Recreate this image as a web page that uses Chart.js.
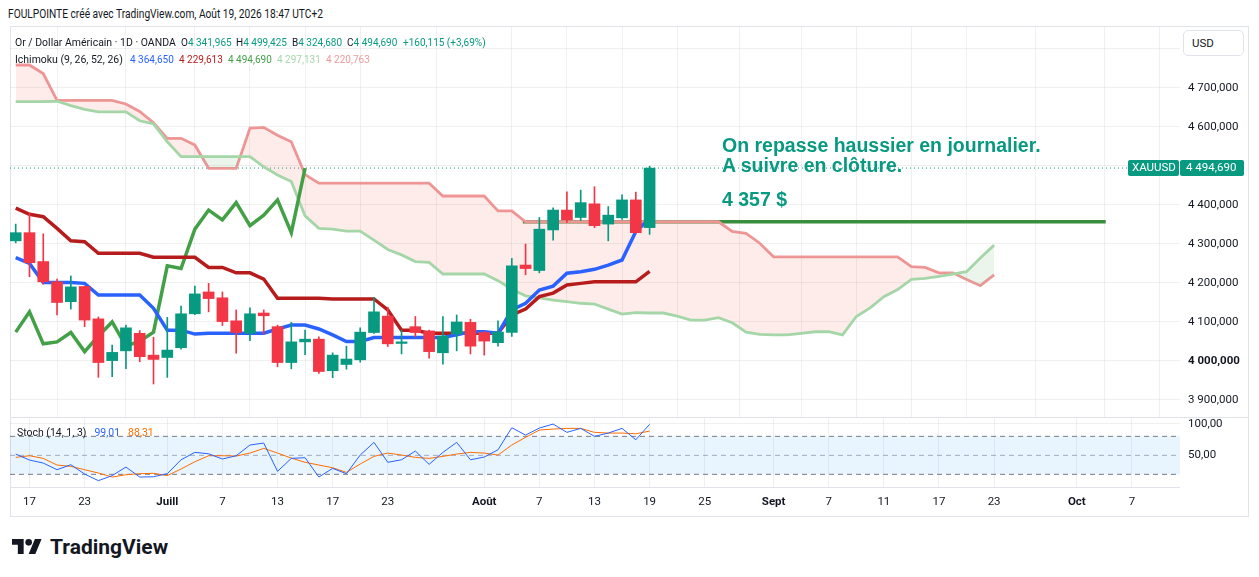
<!DOCTYPE html>
<html>
<head>
<meta charset="utf-8">
<script src="https://cdn.jsdelivr.net/npm/chart.js@4.4.1/dist/chart.umd.min.js"></script>
<style>
  body { margin: 0; width: 1259px; height: 577px; overflow: hidden; background: #fff;
         font-family: Roboto, "Liberation Sans", sans-serif; color: #131722; position: relative; }
  .abs { position: absolute; white-space: nowrap; }
  .frame { left: 10px; top: 26px; width: 1239px; height: 491px; border: 1px solid #e0e3eb; box-sizing: border-box; }
  .sep { background: #e0e3eb; height: 1px; }
  .lg { font-size: 11.5px; line-height: 14px; transform: scaleX(0.91); transform-origin: left center; }
  .lg.v { transform: scaleX(0.87); }
  .note { font-family: "Liberation Sans", Arial, sans-serif; font-weight: bold; font-size: 19.5px;
          line-height: 20px; color: #089981; }
  .usd { left: 1183px; top: 30px; width: 61px; height: 26px; border: 1px solid #e0e3eb; border-radius: 5px;
         box-sizing: border-box; background: #fff; font-size: 11.5px; line-height: 24px; padding-left: 8px; }
</style>
</head>
<body>
<div class="abs frame"></div>
<div class="abs" style="left:10px;top:27px;"><canvas id="main" width="1239" height="391"></canvas></div>
<div class="abs" style="left:10px;top:418px;"><canvas id="stoch" width="1239" height="99"></canvas></div>
<div class="abs sep" style="left:10px;top:417px;width:1239px;"></div>
<div class="abs sep" style="left:10px;top:487px;width:1170px;"></div>

<div class="abs" style="left:8px;top:7px;font-size:12px;line-height:14px;transform:scaleX(0.85);transform-origin:left center;">FOULPOINTE créé avec TradingView.com, Août 19, 2026 18:47 UTC+2</div>

<div class="abs lg" style="left:15px;top:35px;">Or / Dollar Américain · 1D · OANDA</div>
<div class="abs lg v" style="left:181px;top:35px;">O<span style="color:#089981">4 341,965</span></div>
<div class="abs lg v" style="left:236px;top:35px;">H<span style="color:#089981">4 499,425</span></div>
<div class="abs lg v" style="left:292px;top:35px;">B<span style="color:#089981">4 324,680</span></div>
<div class="abs lg v" style="left:347px;top:35px;">C<span style="color:#089981">4 494,690</span></div>
<div class="abs lg v" style="left:403px;top:35px;color:#089981">+160,115 (+3,69%)</div>
<div class="abs lg" style="left:15px;top:52px;">Ichimoku (9, 26, 52, 26)</div>
<div class="abs lg v" style="left:130px;top:52px;color:#2962ff">4 364,650</div>
<div class="abs lg v" style="left:179px;top:52px;color:#b71c1c">4 229,613</div>
<div class="abs lg v" style="left:228px;top:52px;color:#43a047">4 494,690</div>
<div class="abs lg v" style="left:277px;top:52px;color:#a5d6a7">4 297,131</div>
<div class="abs lg v" style="left:326px;top:52px;color:#ef9a9a">4 220,763</div>
<div class="abs lg" style="left:17px;top:425px;">Stoch (14, 1, 3) <span style="color:#2962ff;margin-left:6px">99,01</span> <span style="color:#ff6d00;margin-left:6px">88,31</span></div>

<div class="abs note" style="left:722px;top:135px;">On repasse haussier en journalier.</div>
<div class="abs note" style="left:722px;top:155px;">A suivre en clôture.</div>
<div class="abs note" style="left:722px;top:189px;">4 357 $</div>

<div class="abs usd">USD</div>

<div class="abs" style="left:12px;top:539px;">
  <svg width="30" height="15" viewBox="0 4 36 18"><path d="M14 22H7V11H0V4h14v18zM28 22h-8l7.5-18h8L28 22z" fill="#131722"/><circle cx="20" cy="8" r="4" fill="#131722"/></svg>
</div>
<div class="abs" style="left:50px;top:534px;font-size:21px;line-height:26px;font-weight:bold;">TradingView</div>

<script>
// daily candles, 16 June -> 19 August 2026 (index 0 = 16 June)
const open  = [4308, 4329, 4255, 4203, 4152, 4191, 4108, 4001, 4026, 4071, 4015, 4009, 4034, 4121, 4177, 4162,
               4103, 4071, 4123, 4088, 3996, 4049, 4056, 3975, 3991, 4003, 4073, 4115, 4045, 4088, 4077, 4021,
               4069, 4099, 4073, 4047, 4073, 4246, 4232, 4336, 4387, 4368, 4403, 4351, 4367, 4413, 4341.965];
const high  = [4351, 4379, 4326, 4210, 4218, 4192, 4113, 4041, 4092, 4078, 4061, 4112, 4141, 4192, 4199, 4177,
               4131, 4136, 4131, 4092, 4099, 4079, 4062, 4021, 4038, 4085, 4163, 4138, 4079, 4114, 4079, 4114,
               4118, 4107, 4076, 4103, 4263, 4300, 4368, 4393, 4434, 4438, 4447, 4396, 4426, 4433, 4499.425];
const low   = [4303, 4216, 4197, 4118, 4133, 4088, 3958, 3960, 3980, 3998, 3941, 3958, 4030, 4119, 4126, 4091,
               4020, 4052, 4069, 3985, 3980, 4016, 3968, 3957, 3979, 3997, 4071, 4037, 4018, 4062, 4007, 3992,
               4026, 4018, 4015, 4038, 4063, 4221, 4226, 4310, 4355, 4360, 4342, 4308, 4363, 4328, 4324.680];
const close = [4329, 4252, 4203, 4150, 4190, 4105, 3996, 4022, 4085, 4011, 4004, 4028, 4121, 4172, 4160, 4101,
               4073, 4121, 4116, 3996, 4049, 4056, 3973, 4015, 4005, 4074, 4126, 4044, 4049, 4073, 4024, 4064,
               4100, 4038, 4051, 4074, 4244, 4237, 4338, 4387, 4362, 4406, 4347, 4374, 4413, 4329, 4494.690];

// Ichimoku (9, 26, 52, 26)
const tenkan = [4265, 4250, 4201, 4201, 4201, 4199, 4169, 4169, 4169, 4169, 4135, 4079, 4079, 4069, 4071, 4071,
                4071, 4071, 4071, 4082, 4092, 4092, 4082, 4067, 4050, 4050, 4060, 4060, 4060, 4060, 4060, 4060,
                4067, 4075, 4075, 4071, 4131, 4148, 4182, 4192, 4225, 4229, 4235, 4246, 4259, 4332, 4364.650];
const kijun  = [4392, 4376, 4370, 4340, 4308, 4306, 4276, 4276, 4276, 4276, 4266, 4266, 4266, 4266, 4240, 4240,
                4226, 4226, 4210, 4161, 4161, 4161, 4161, 4159, 4159, 4159, 4159, 4131, 4079, 4079, 4071, 4071,
                4071, 4071, 4071, 4071, 4118, 4133, 4165, 4174, 4195, 4199, 4203, 4203, 4203, 4203, 4229.613];
const chikou = [4074, 4126, 4044, 4049, 4073, 4024, 4064, 4100, 4038, 4051, 4074, 4244, 4237, 4338, 4387, 4362,
                4406, 4347, 4374, 4413, 4329, 4494.690];
const spanA  = [4665, 4665, 4665, 4666, 4655, 4645, 4639, 4639, 4639, 4616, 4608, 4562, 4524, 4524, 4524, 4524,
                4524, 4524, 4498, 4477, 4460, 4372, 4340, 4338, 4333, 4333, 4310, 4286, 4272, 4255, 4253, 4223,
                4223, 4223, 4223, 4206, 4184, 4167, 4162, 4156, 4152, 4148, 4146, 4133, 4120, 4124, 4123, 4123,
                4115, 4105, 4105, 4111, 4098, 4074, 4068, 4067, 4067, 4071, 4075, 4075, 4067, 4114, 4136, 4165,
                4183, 4209, 4212, 4217, 4223, 4229, 4264, 4297.131];
const spanB  = [4759, 4759, 4737, 4668, 4668, 4668, 4668, 4668, 4659, 4640, 4611, 4571, 4571, 4554, 4494, 4494,
                4494, 4597, 4599, 4579, 4562, 4478, 4456, 4456, 4456, 4456, 4456, 4456, 4456, 4456, 4456, 4423,
                4423, 4423, 4423, 4385, 4385, 4357, 4357, 4357, 4357, 4357, 4357, 4357, 4357, 4357, 4357, 4357,
                4357, 4357, 4357, 4357, 4332, 4327, 4302, 4267, 4267, 4267, 4267, 4267, 4267, 4267, 4267, 4267,
                4267, 4242, 4240, 4226, 4226, 4209, 4193, 4220.763];

// Stochastic (14, 1, 3)
const stochK = [52, 42.6, 37.8, 27.3, 35.2, 20.5, 10, 18, 31.5, 15.7, 16.2, 21, 43, 54.7, 52.5, 44.2, 49.4, 66.3,
                69.4, 24.7, 45.2, 46.3, 15.7, 29.4, 21, 50.5, 70.5, 39, 43, 56.8, 35.8, 54.7, 70.5, 43, 47.3, 58.8,
                93.6, 82, 93.1, 99.4, 86.3, 92.6, 80, 85.2, 92.6, 74.6, 99.01];
const stochD = [46.8, 49.4, 45.2, 34.7, 32.6, 27.3, 22.1, 15.7, 19.4, 21, 21.6, 18, 28.4, 39.9, 49.4, 49.4, 48.9,
                53.6, 61, 53.6, 45.7, 39, 34.7, 30.4, 23.1, 36.3, 48.4, 53.6, 50.5, 46.8, 45.2, 48.4, 52, 54.7,
                53.6, 50.5, 66.3, 78.4, 90, 91.5, 92.6, 92.6, 86.3, 85.2, 85.2, 84.1, 88.31];
const stochLevels = [80, 50, 20];

// drawn level "4 357 $" (from 5 Aug to early October)
const levelPrice = 4357;
const levelFrom = 36.8, levelTo = 79.1;

// time axis (bar index -> label)
const tickPos  = [1, 5, 11, 15, 19, 23, 27, 34, 38, 42, 46, 50, 55, 59, 63, 67, 71, 77, 81];
const tickText = ['17', '23', 'Juill', '7', '13', '17', '23', 'Août', '7', '13', '19', '25', 'Sept', '7', '11', '17', '23', 'Oct', '7'];
const monthTicks = ['Juill', 'Août', 'Sept', 'Oct'];
const priceTicks = [3900, 4000, 4100, 4200, 4300, 4400, 4500, 4600, 4700, 4800];
const stochTicks = [50, 100];

const xMin = -0.414, xMax = 84.49;
const UP = '#089981', DOWN = '#f23645';
const GRID = 'rgba(42,46,57,0.07)';
const FONT = 'Roboto, "Liberation Sans", sans-serif';

function fmt(v, d) {
  const p = v.toFixed(d).split('.');
  return p[0].replace(/\B(?=(\d{3})+(?!\d))/g, ' ') + ',' + p[1];
}
function pts(arr) { return arr.map((v, i) => ({ x: i, y: v })); }
function candleColor(i) { return close[i] >= open[i] ? UP : DOWN; }
function lineDs(data, color, width, order, extra) {
  return Object.assign({ type: 'line', data: data, borderColor: color, borderWidth: width,
    pointRadius: 0, tension: 0, fill: false, order: order }, extra || {});
}
// no label padding around the plot: the plot has to fill its canvas exactly
function noPad(s) { s.paddingTop = 0; s.paddingBottom = 0; s.paddingLeft = 0; s.paddingRight = 0; }
function xScale(showTicks) {
  return {
    type: 'linear', min: xMin, max: xMax, offset: false,
    afterBuildTicks: s => { s.ticks = tickPos.map(v => ({ value: v })); },
    afterFit: s => { s.height = showTicks ? 30 : 0; noPad(s); },
    grid: { color: GRID, drawTicks: false },
    border: { display: false },
    ticks: {
      display: showTicks, autoSkip: false, maxRotation: 0, padding: 8, color: '#131722',
      callback: v => tickText[tickPos.indexOf(v)],
      font: ctx => ({ family: FONT, size: 11.5,
        weight: ctx.tick && monthTicks.includes(tickText[tickPos.indexOf(ctx.tick.value)]) ? 'bold' : 'normal' })
    }
  };
}

// last price label on the right scale
const lastPriceTag = {
  id: 'lastPriceTag',
  afterDraw(chart) {
    const c = chart.ctx, a = chart.chartArea;
    const y = Math.round(chart.scales.y.getPixelForValue(close[close.length - 1]));
    c.save();
    c.fillStyle = UP;
    c.beginPath(); c.roundRect(a.right - 52, y - 8, 51, 16, 2); c.fill();
    c.beginPath(); c.roundRect(a.right, y - 8, 64, 16, 2); c.fill();
    c.fillStyle = '#fff';
    c.font = '11.5px ' + FONT;
    c.textBaseline = 'middle';
    c.fillText('XAUUSD', a.right - 48, y + 0.5);
    c.fillText(fmt(close[close.length - 1], 3), a.right + 6, y + 0.5);
    c.restore();
  }
};

new Chart(document.getElementById('main'), {
  type: 'bar',
  data: {
    datasets: [
      lineDs([{ x: xMin, y: close[close.length - 1] }, { x: xMax, y: close[close.length - 1] }], UP, 1, 9,
             { borderDash: [1, 3] }),
      lineDs([{ x: levelFrom, y: levelPrice }, { x: levelTo, y: levelPrice }], '#388e3c', 3.5, 8),
      lineDs(pts(spanB), '#ef9a9a', 2.8, 7),
      lineDs(pts(spanA), '#a5d6a7', 2.8, 6,
             { fill: { target: 2, above: 'rgba(67,160,71,0.1)', below: 'rgba(244,67,54,0.1)' } }),
      lineDs(pts(chikou), '#43a047', 3.5, 4),
      lineDs(pts(kijun), '#b71c1c', 3.5, 3),
      lineDs(pts(tenkan), '#2962ff', 3.5, 2),
      { type: 'bar', order: 1, grouped: false, barThickness: 1,
        data: low.map((l, i) => ({ x: i, y: [l, high[i]] })),
        backgroundColor: ctx => candleColor(ctx.dataIndex) },
      { type: 'bar', order: 0, grouped: false, barThickness: 11, minBarLength: 1,
        data: open.map((o, i) => ({ x: i, y: [o, close[i]] })),
        backgroundColor: ctx => candleColor(ctx.dataIndex) }
    ]
  },
  options: {
    responsive: false, animation: false,
    layout: { padding: 0 },
    plugins: { legend: { display: false }, tooltip: { enabled: false } },
    scales: {
      x: xScale(false),
      y: {
        position: 'right', min: 3853.8, max: 4856.4,
        afterBuildTicks: s => { s.ticks = priceTicks.map(v => ({ value: v })); },
        afterFit: s => { s.width = 69; noPad(s); },
        grid: { color: GRID, drawTicks: false },
        border: { display: false },
        ticks: { padding: 8, color: '#131722', callback: v => fmt(v, 3),
                 font: ctx => ({ family: FONT, size: 11.5, weight: ctx.tick && ctx.tick.value === 4000 ? 'bold' : 'normal' }) }
      }
    }
  },
  plugins: [lastPriceTag]
});

const flat = v => [{ x: xMin, y: v }, { x: xMax, y: v }];
new Chart(document.getElementById('stoch'), {
  type: 'line',
  data: {
    datasets: [
      lineDs(flat(stochLevels[0]), '#787b86', 1, 5, { borderDash: [5, 4], fill: '+2', backgroundColor: 'rgba(33,150,243,0.1)' }),
      lineDs(flat(stochLevels[1]), 'rgba(120,123,134,0.6)', 1, 5, { borderDash: [5, 4] }),
      lineDs(flat(stochLevels[2]), '#787b86', 1, 5, { borderDash: [5, 4] }),
      lineDs(pts(stochD), '#ff6d00', 1, 2),
      lineDs(pts(stochK), '#2962ff', 1, 1)
    ]
  },
  options: {
    responsive: false, animation: false,
    layout: { padding: 0 },
    plugins: { legend: { display: false }, tooltip: { enabled: false } },
    scales: {
      x: xScale(true),
      y: {
        position: 'right', min: 0, max: 109,
        afterBuildTicks: s => { s.ticks = stochTicks.map(v => ({ value: v })); },
        afterFit: s => { s.width = 69; noPad(s); },
        grid: { color: ctx => ctx.tick && ctx.tick.value === 100 ? GRID : 'rgba(0,0,0,0)', drawTicks: false },
        border: { display: false },
        ticks: { padding: 8, color: '#131722', font: { family: FONT, size: 11.5 }, callback: v => fmt(v, 2) }
      }
    }
  }
});
</script>
</body>
</html>
